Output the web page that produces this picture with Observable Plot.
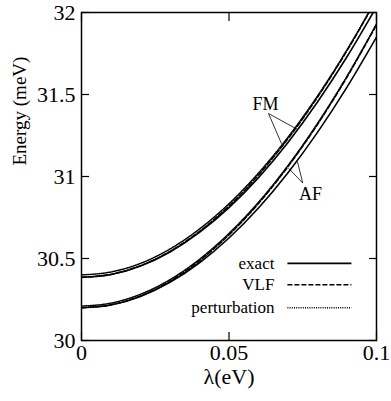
<!DOCTYPE html>
<html>
<head>
<meta charset="utf-8">
<script src="https://cdn.jsdelivr.net/npm/d3@7"></script>
<script src="https://cdn.jsdelivr.net/npm/@observablehq/plot@0.6"></script>
<style>
  html, body { margin: 0; padding: 0; background: #fff; font-family: "Liberation Serif", serif; }
  #chart svg { display: block; }
  #chart svg, #chart svg text { font-family: "Liberation Serif", serif; }
  #pre { position: absolute; left: 90px; top: 20px; font: 12px "Liberation Serif"; color: transparent; width: 200px; pointer-events: none; }
</style>
</head>
<body>
<div id="chart"></div>
<div id="pre"></div>
<script>
// λ values (eV)
const lambda = [0, 0.01, 0.02, 0.03, 0.04, 0.05, 0.06, 0.07, 0.08, 0.09, 0.1];
// Energies (meV)
const fmExact = [30.385, 30.402, 30.454, 30.540, 30.659, 30.810, 30.993, 31.208, 31.454, 31.730, 32.035];
const fmVLF   = [30.385, 30.403, 30.456, 30.544, 30.666, 30.821, 31.009, 31.230, 31.483, 31.767, 32.080];
const fmPert  = [30.400, 30.418, 30.470, 30.558, 30.680, 30.834, 31.021, 31.240, 31.491, 31.773, 32.085];
const afExact = [30.200, 30.217, 30.269, 30.355, 30.474, 30.625, 30.808, 31.023, 31.269, 31.545, 31.850];
const afVLF   = [30.200, 30.218, 30.272, 30.362, 30.486, 30.644, 30.835, 31.060, 31.317, 31.606, 31.925];
const afPert  = [30.210, 30.228, 30.282, 30.371, 30.495, 30.653, 30.843, 31.067, 31.324, 31.612, 31.930];

const methods = ["exact", "VLF", "perturbation"];
const xTicks = [0, 0.05, 0.1];
const yTicks = [30, 30.5, 31, 31.5, 32];

// annotation labels and pointer lines (data coordinates)
const annLabels = ["FM", "AF"];
const annLabelX = [0.0624, 0.0776];
const annLabelY = [31.44, 30.89];
const annFromX = [0.0634, 0.0634, 0.0750, 0.0750];
const annFromY = [31.384, 31.384, 30.96, 30.96];
const annToX   = [0.0678, 0.0729, 0.0732, 0.0702];
const annToY   = [31.20, 31.29, 31.09, 31.05];

const serif = "Liberation Serif";

const series = [
  {name: "exact", vals: fmExact}, {name: "VLF", vals: fmVLF}, {name: "perturbation", vals: fmPert},
  {name: "exact", vals: afExact}, {name: "VLF", vals: afVLF}, {name: "perturbation", vals: afPert}
];
const dash = {exact: null, VLF: "5,2", perturbation: "1,1.2"};
const sw = {exact: 1.6, VLF: 1.5, perturbation: 1.5};

const lineMarks = series.map(s => Plot.line(lambda.map((x, i) => ({x, y: s.vals[i]})), {
  x: "x", y: "y", stroke: "black", strokeWidth: sw[s.name],
  strokeDasharray: dash[s.name], curve: "monotone-x", clip: true
}));

const legendY = [30.47, 30.34, 30.20];
const legend = methods.map((m, i) => ({m, y: legendY[i]}));

const annLinks = annFromX.map((x1, i) => ({x1, y1: annFromY[i], x2: annToX[i], y2: annToY[i]}));
const annText = annLabels.map((t, i) => ({t, x: annLabelX[i], y: annLabelY[i]}));

const chart = Plot.plot({
  width: 391, height: 401,
  marginLeft: 81, marginRight: 15, marginTop: 12, marginBottom: 61,
  style: {fontSize: "22px", color: "black", background: "white"},
  x: {domain: [0, 0.1]},
  y: {domain: [30, 32]},
  marks: [
    Plot.axisX({anchor: "bottom", ticks: xTicks, tickSize: -8, tickPadding: 12, tickFormat: d => String(d), label: null, fontSize: 22, strokeWidth: 1.2}),
    Plot.axisX({anchor: "top", ticks: xTicks, tickSize: -8, tickFormat: () => "", label: null, strokeWidth: 1.2}),
    Plot.axisY({anchor: "left", ticks: yTicks, tickSize: -8, tickPadding: 14, tickFormat: d => String(d), label: null, fontSize: 22, strokeWidth: 1.2}),
    Plot.axisY({anchor: "right", ticks: yTicks, tickSize: -8, tickFormat: () => "", label: null, strokeWidth: 1.2}),
    ...lineMarks,
    Plot.frame({stroke: "black", strokeWidth: 1.5}),
    Plot.text(["Energy (meV)"], {frameAnchor: "left", rotate: -90, dx: -62, dy: -11, fontSize: 19}),
    Plot.text(["λ(eV)"], {frameAnchor: "bottom", dy: 43, fontSize: 22}),
    // legend
    Plot.text(legend, {x: () => 0.0654, y: "y", text: "m", textAnchor: "end", fontSize: 17}),
    ...methods.map((m, i) => Plot.link([legend[i]], {x1: () => 0.0698, x2: () => 0.0915, y1: "y", y2: "y",
      stroke: "black", strokeWidth: sw[m], strokeDasharray: dash[m]})),
    // annotations
    Plot.link(annLinks, {x1: "x1", y1: "y1", x2: "x2", y2: "y2", stroke: "black", strokeWidth: 0.8}),
    Plot.text(annText, {x: "x", y: "y", text: "t", fontSize: 18})
  ]
});
document.getElementById("chart").append(chart);
d3.select(chart).style("font-family", serif);
d3.select(chart).selectAll("g, text").style("font-family", serif);
const t = chart.querySelector("text");
document.getElementById("pre").textContent = getComputedStyle(t).fontFamily + " " + chart.getAttribute("font-family");
</script>
</body>
</html>
